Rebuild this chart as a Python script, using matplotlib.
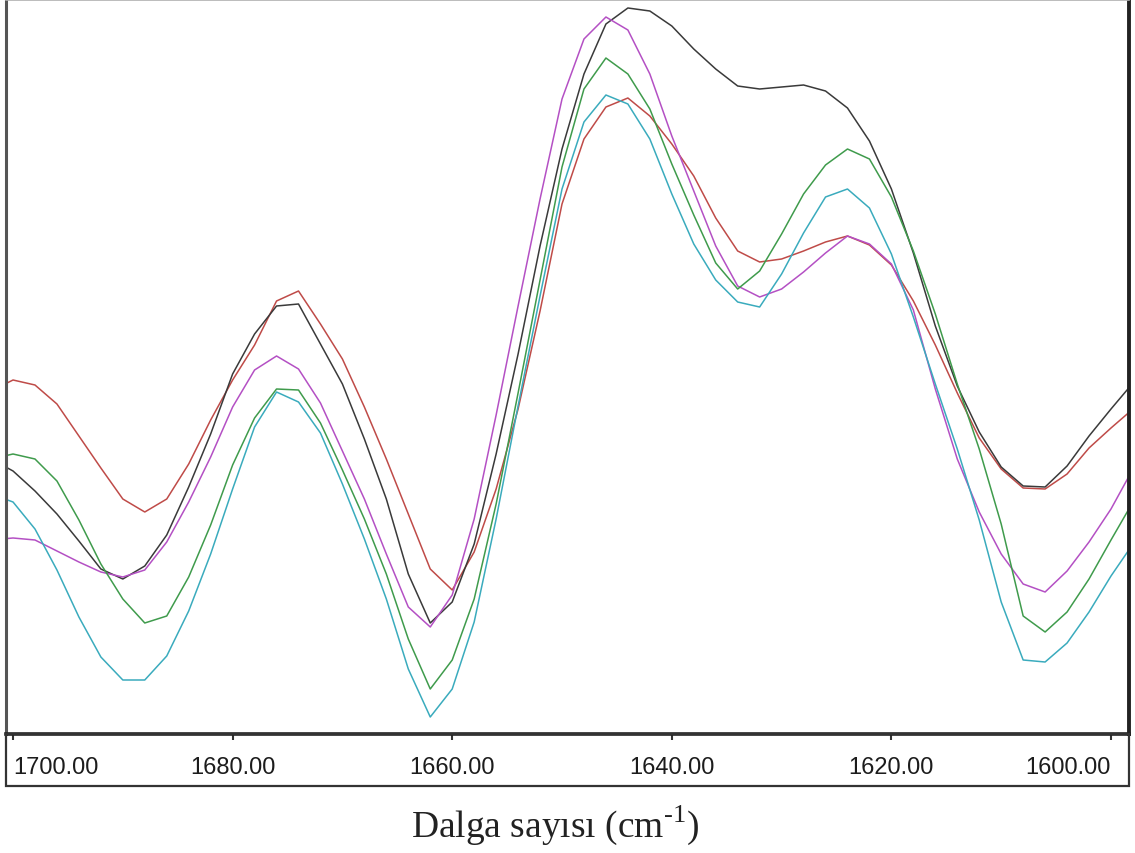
import numpy as np
import matplotlib
matplotlib.use("Agg")
import matplotlib.pyplot as plt
from matplotlib.patches import Rectangle

plt.rcParams["mathtext.fontset"] = "custom"
plt.rcParams["mathtext.rm"] = "Liberation Serif"

# wavenumber grid (cm-1), every 2 cm-1
wavenumber = np.arange(1702, 1597, -2)

# absorbance (a.u.)
red = [343, 354, 349, 330, 298, 266, 235, 222, 235, 270, 314, 354, 389, 433, 443,
       410, 375, 327, 275, 220, 165, 144, 182, 245, 325, 423, 530, 595, 627, 636,
       618, 590, 558, 516, 483, 472, 475, 483, 492, 498, 489, 469, 433, 389, 341,
       296, 265, 246, 245, 260, 286, 306, 325]
black = [275, 263, 243, 220, 193, 165, 155, 168, 199, 247, 300, 360, 400, 428, 430,
         390, 350, 295, 235, 160, 111, 132, 190, 280, 380, 488, 585, 660, 710, 726,
         723, 708, 685, 665, 648, 645, 647, 649, 643, 626, 593, 545, 481, 408, 348,
         302, 267, 248, 247, 268, 298, 325, 351]
magenta = [194, 196, 194, 183, 172, 162, 157, 164, 192, 232, 277, 327, 364, 378, 365,
           331, 283, 235, 180, 127, 107, 139, 215, 319, 428, 535, 635, 695, 717, 704,
           660, 598, 543, 488, 448, 437, 445, 462, 481, 498, 490, 470, 424, 345, 275,
           222, 180, 150, 142, 163, 192, 225, 265]
green = [275, 280, 275, 253, 214, 170, 135, 111, 118, 157, 209, 269, 316, 345, 344,
         311, 264, 215, 160, 95, 45, 74, 135, 230, 341, 454, 567, 645, 676, 660,
         625, 570, 519, 471, 445, 463, 500, 540, 569, 585, 575, 537, 483, 420, 350,
         285, 210, 118, 102, 122, 155, 194, 232]
cyan = [240, 232, 205, 164, 117, 77, 54, 54, 78, 123, 180, 245, 307, 342, 332,
        301, 250, 195, 135, 65, 17, 45, 112, 215, 328, 438, 545, 612, 639, 630,
        595, 540, 490, 454, 432, 427, 460, 501, 537, 545, 526, 480, 417, 350, 285,
        214, 132, 74, 72, 91, 122, 158, 190]

series = [
    (red, "#bf4b48"),
    (black, "#3a3a3a"),
    (magenta, "#b450c4"),
    (green, "#3f9b4c"),
    (cyan, "#3aabbd"),
]

W, H = 1135, 854
fig = plt.figure(figsize=(W / 100, H / 100), dpi=100)
ax = fig.add_axes([6 / W, 1 - 735 / H, 1123 / W, 734 / H])

for y, c in series:
    ax.plot(wavenumber, y, color=c, lw=1.1)

ax.set_xlim(1700.64, 1598.36)
ax.set_ylim(0, 734)
ax.set_yticks([])

ticks = [1700, 1680, 1660, 1640, 1620, 1600]
ax.set_xticks(ticks)
ax.set_xticklabels([f"{t:.2f}" for t in ticks])
ax.tick_params(axis="x", direction="out", length=4, width=1.5, color="#333333",
               pad=12, labelsize=17, labelcolor="#1c1c1c")
for lab in ax.get_xticklabels():
    lab.set_fontfamily("Liberation Sans")
labs = ax.get_xticklabels()
labs[0].set_horizontalalignment("left")
labs[-1].set_horizontalalignment("right")

ax.spines["left"].set_linewidth(2.2)
ax.spines["left"].set_color("#555555")
ax.spines["right"].set_linewidth(2.8)
ax.spines["right"].set_color("#222222")
ax.spines["bottom"].set_linewidth(2.6)
ax.spines["bottom"].set_color("#222222")
ax.spines["top"].set_linewidth(1.2)
ax.spines["top"].set_color("#b0b0b0")

# box around the tick label strip
fig.patches.append(Rectangle((6 / W, 1 - 787 / H), 1123 / W, 52 / H, fill=False,
                             lw=1.6, edgecolor="#333333", transform=fig.transFigure))

fig.text(555 / W, 1 - 825 / H, "Dalga sayısı (cm$^{\\text{-1}}$)",
         ha="center", va="center", fontsize=27, family="Liberation Serif",
         color="#222222")

fig.savefig("out.png", dpi=100)
